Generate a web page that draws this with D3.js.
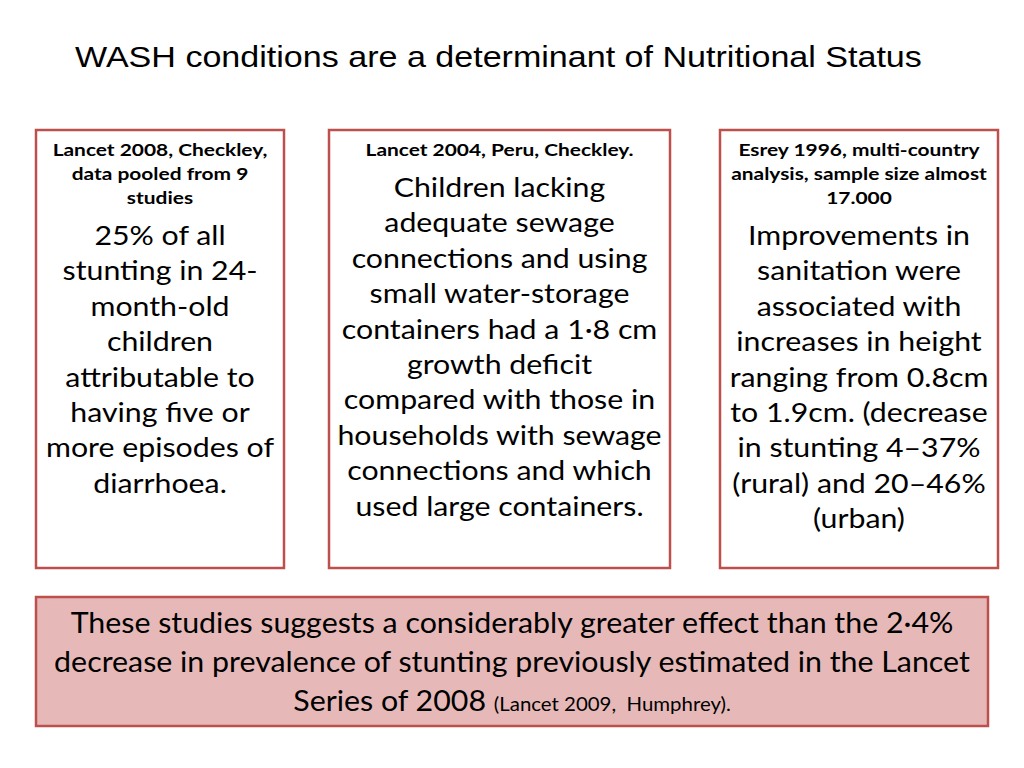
<!DOCTYPE html>
<html>
<head>
<meta charset="utf-8">
<script src="https://cdn.jsdelivr.net/npm/d3@7"></script>
<style>
  body { margin: 0; background: #fff; }
  svg text { font-family: Lato, "Open Sans", sans-serif; fill: #000; white-space: pre; }
</style>
</head>
<body>
<div id="chart"></div>
<script>
const title = "WASH conditions are a determinant of Nutritional Status";

const boxHeaders = [
    ["Lancet 2008, Checkley,", "data pooled from 9", "studies"],
    ["Lancet 2004, Peru, Checkley."],
    ["Esrey 1996, multi-country", "analysis, sample size almost", "17.000"]
];

const boxBodies = [
    ["25% of all", "stunting in 24-", "month-old", "children", "attributable to",
     "having five or", "more episodes of", "diarrhoea."],
    ["Children lacking", "adequate sewage", "connections and using", "small water-storage",
     "containers had a 1·8 cm", "growth deficit", "compared with those in",
     "households with sewage", "connections and which", "used large containers."],
    ["Improvements in", "sanitation were", "associated with", "increases in height",
     "ranging from 0.8cm", "to 1.9cm. (decrease", "in stunting 4–37%",
     "(rural) and 20–46%", "(urban)"]
];

const summaryLines = [
    "These studies suggests a considerably greater effect than the 2·4%",
    "decrease in prevalence of stunting previously estimated in the Lancet",
    "Series of 2008"
];
const summaryCite = "(Lancet 2009,  Humphrey).";

const width = 1024, height = 768;
const border = "#bd504d";

const svg = d3.select("#chart").append("svg")
    .attr("width", width)
    .attr("height", height);

// title (the slide is a bit wider than the fonts, so stretch x)
svg.append("text")
    .attr("transform", "translate(75,67) scale(1.175,1)")
    .style("font-family", "'Liberation Sans', Arial, sans-serif")
    .style("font-size", "29px")
    .text(title);

// three boxes across the slide
const boxes = [
    { x0: 36, x1: 284 },
    { x0: 329, x1: 670 },
    { x0: 720, x1: 998 }
];
const boxTop = 130, boxBottom = 568;

const headLine = d3.scaleLinear().domain([0, 1]).range([0, 24]);
const bodyLine = d3.scaleLinear().domain([0, 1]).range([0, 35.4]);

const g = svg.selectAll("g.box")
    .data(boxes.map((b, i) => ({ ...b, head: boxHeaders[i], body: boxBodies[i] })))
    .enter()
    .append("g")
    .attr("class", "box");

g.append("rect")
    .attr("x", d => d.x0)
    .attr("y", boxTop)
    .attr("width", d => d.x1 - d.x0)
    .attr("height", boxBottom - boxTop)
    .attr("fill", "#fff")
    .attr("stroke", border)
    .attr("stroke-width", 2.5);

g.each(function(d) {
    const cx = (d.x0 + d.x1) / 2;
    const sel = d3.select(this);
    sel.selectAll("text.head")
        .data(d.head)
        .enter()
        .append("text")
        .attr("class", "head")
        .attr("transform", (t, i) => `translate(${cx},${156 + headLine(i)}) scale(1.23,1)`)
        .attr("text-anchor", "middle")
        .style("font-size", "17px")
        .style("font-weight", "bold")
        .text(t => t);
    const start = 156 + headLine(d.head.length - 1) + 41;
    sel.selectAll("text.body")
        .data(d.body)
        .enter()
        .append("text")
        .attr("class", "body")
        .attr("transform", (t, i) => `translate(${cx},${start + bodyLine(i)}) scale(1.165,1)`)
        .attr("text-anchor", "middle")
        .style("font-size", "26px")
        .text(t => t);
});

// summary box
svg.append("rect")
    .attr("x", 36)
    .attr("y", 597)
    .attr("width", 952)
    .attr("height", 129)
    .attr("fill", "#e6b9b8")
    .attr("stroke", border)
    .attr("stroke-width", 2.5);

const sumLine = d3.scaleLinear().domain([0, 1]).range([0, 39]);
const st = svg.selectAll("text.sum")
    .data(summaryLines)
    .enter()
    .append("text")
    .attr("class", "sum")
    .attr("transform", (t, i) => `translate(512,${633 + sumLine(i)}) scale(1.047,1)`)
    .attr("text-anchor", "middle")
    .style("font-size", "29px")
    .text(t => t);

const last = st.filter((t, i) => i === summaryLines.length - 1);
last.append("tspan").text(" ");
last.append("tspan")
    .style("font-size", "19.5px")
    .text(summaryCite);
</script>
</body>
</html>
